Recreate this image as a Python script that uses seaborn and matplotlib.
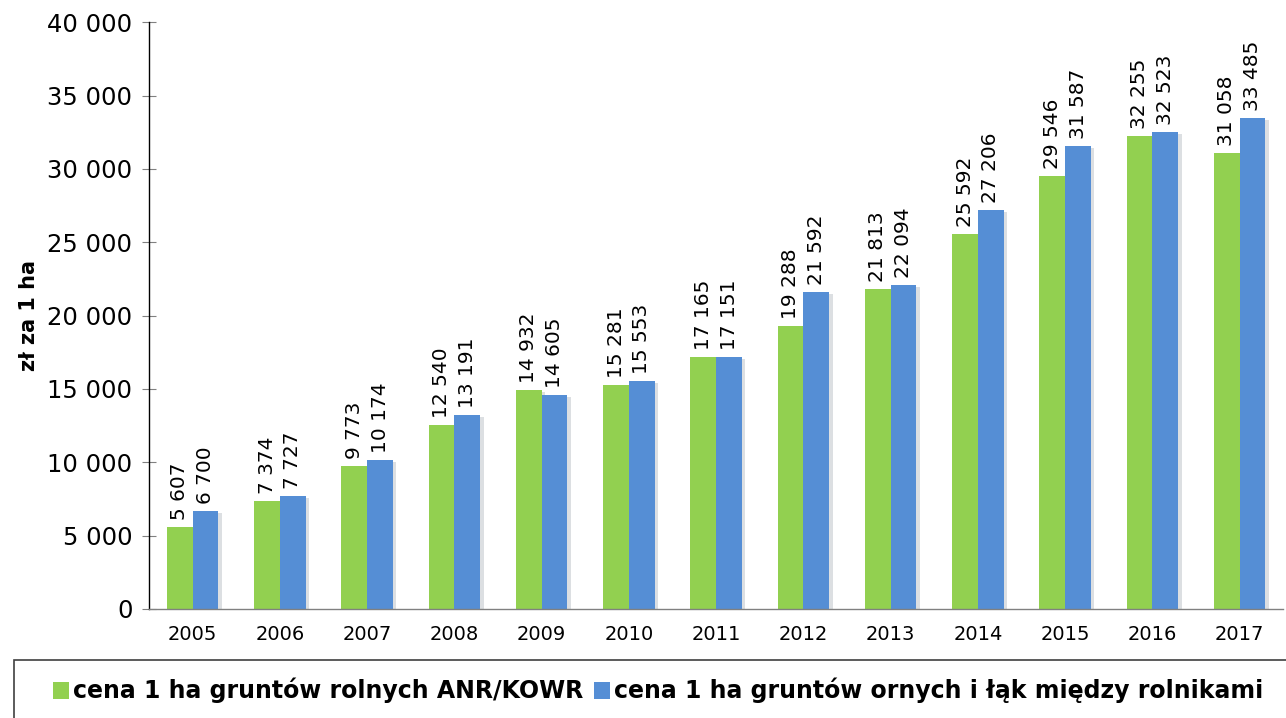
import numpy as np
import pandas as pd
import matplotlib
matplotlib.use("Agg")
import matplotlib.pyplot as plt
import matplotlib.patheffects as pe
from matplotlib.patches import Rectangle
from matplotlib.ticker import FuncFormatter
import seaborn as sns

# --- DANE ---
lata = ["2005", "2006", "2007", "2008", "2009", "2010", "2011",
        "2012", "2013", "2014", "2015", "2016", "2017"]
cena_anr = [5607, 7374, 9773, 12540, 14932, 15281, 17165,
            19288, 21813, 25592, 29546, 32255, 31058]
cena_rolnicy = [6700, 7727, 10174, 13191, 14605, 15553, 17151,
                21592, 22094, 27206, 31587, 32523, 33485]
seria_anr = "cena 1 ha gruntów rolnych ANR/KOWR"
seria_rolnicy = "cena 1 ha gruntów ornych i łąk między rolnikami"

df = pd.DataFrame({
    "rok": lata * 2,
    "cena": cena_anr + cena_rolnicy,
    "seria": [seria_anr] * len(lata) + [seria_rolnicy] * len(lata),
})

sns.set_style("white")
plt.rcParams["font.family"] = ["DejaVu Sans"]
plt.rcParams["text.color"] = "black"
plt.rcParams["xtick.color"] = "black"
plt.rcParams["ytick.color"] = "black"
plt.rcParams["axes.labelcolor"] = "black"

def spacja(v, pos=None):
    return f"{int(round(v)):,}".replace(",", " ")

fig = plt.figure(figsize=(12.86, 7.18), dpi=100)
ax = fig.add_axes([0.1159, 0.152, 0.882, 0.817])

sns.barplot(data=df, x="rok", y="cena", hue="seria",
            palette=["#92D050", "#558ED5"], width=0.59, dodge=True,
            saturation=1, edgecolor="none", ax=ax, legend=True)

handles, labels = ax.get_legend_handles_labels()
ax.get_legend().remove()

# lekki cien pod slupkami
for cont in ax.containers:
    for p in cont:
        p.set_path_effects([pe.SimplePatchShadow(offset=(2.5, -1.5), alpha=0.15),
                            pe.Normal()])

# etykiety nad slupkami
for cont in ax.containers:
    for bar in cont:
        h = bar.get_height()
        ax.annotate(spacja(h), (bar.get_x() + bar.get_width() / 2, h),
                    xytext=(0, 5), textcoords="offset points",
                    rotation=90, ha="center", va="bottom",
                    fontsize=14.5, color="black")

ax.set_ylim(0, 40000)
ax.set_xlim(-0.5, 12.5)
ax.set_yticks(np.arange(0, 40001, 5000))
ax.yaxis.set_major_formatter(FuncFormatter(spacja))
ax.tick_params(axis="y", labelsize=17.5, direction="inout", length=10,
               color="#808080", left=True, pad=7)
ax.tick_params(axis="x", labelsize=14, bottom=False, pad=8)
ax.set_xlabel("")
ax.set_ylabel("zł za 1 ha", fontsize=15, fontweight="bold", labelpad=6)

sns.despine(ax=ax, top=True, right=True)
ax.spines["left"].set_color("black")
ax.spines["left"].set_linewidth(1.0)
ax.spines["bottom"].set_color("#808080")
ax.spines["bottom"].set_linewidth(1.0)

# ramka legendy (wychodzi poza prawa i dolna krawedz)
fig.patches.append(Rectangle((0.011, -0.05), 1.05, 0.05 + 58 / 718,
                             transform=fig.transFigure, fill=False,
                             edgecolor="#404040", linewidth=1.2))

leg = fig.legend(handles, labels, loc="center", ncol=2,
                 bbox_to_anchor=(0.512, 0.038), frameon=False,
                 handlelength=0.65, handleheight=0.75,
                 handletextpad=0.2, columnspacing=0.45,
                 prop={"weight": "bold", "size": 17})

fig.savefig("out.png", dpi=100)
